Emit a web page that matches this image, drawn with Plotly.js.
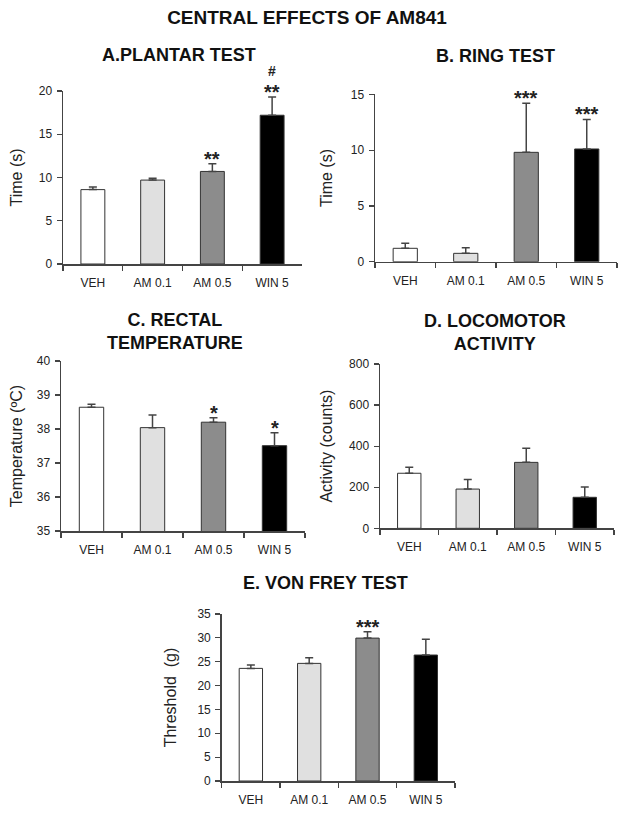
<!DOCTYPE html>
<html>
<head>
<meta charset="utf-8">
<script src="https://cdn.plot.ly/plotly-3.0.1.min.js"></script>
<style>html,body{margin:0;padding:0;background:#fff;}#chart{width:624px;height:818px;}</style>
</head>
<body>
<div id="chart"></div>
<script>
// ---- data ----
const categories = ['VEH', 'AM 0.1', 'AM 0.5', 'WIN 5'];

const plantarMean = [8.6, 9.7, 10.7, 17.2];
const plantarSem  = [0.3, 0.2, 0.9, 2.1];
const plantarSig  = ['', '', '**', '**'];
const plantarHash = ['', '', '', '#'];

const ringMean = [1.2, 0.75, 9.8, 10.1];
const ringSem  = [0.45, 0.5, 4.4, 2.65];
const ringSig  = ['', '', '***', '***'];

const tempMean = [38.64, 38.04, 38.2, 37.51];
const tempSem  = [0.09, 0.37, 0.13, 0.38];
const tempSig  = ['', '', '*', '*'];

const locoMean = [268, 191, 321, 151];
const locoSem  = [29, 47, 69, 50];
const locoSig  = ['', '', '', ''];

const vonFreyMean = [23.6, 24.65, 29.95, 26.4];
const vonFreySem  = [0.7, 1.2, 1.35, 3.3];
const vonFreySig  = ['', '', '***', ''];

// ---- styles ----
const FONT = 'Liberation Sans, Arial, sans-serif';
const barColors = ['#ffffff', '#e0e0e0', '#8c8c8c', '#000000'];
const AX = '#444';
const TXT = '#222';

const W = 624, H = 818;
const px = v => v / W;
const py = v => 1 - v / H;

const panels = [
  {id: '', mean: plantarMean, sem: plantarSem, sig: plantarSig, hash: plantarHash,
   x: [63, 302], y: [264, 91], range: [0, 20], dtick: 5, ytitle: 'Time (s)', standoff: 12,
   title: '<b>A.PLANTAR TEST</b>', tx: 179, ty: 55},
  {id: '2', mean: ringMean, sem: ringSem, sig: ringSig,
   x: [375, 617], y: [261.7, 94.3], range: [0, 15], dtick: 5, ytitle: 'Time (s)', standoff: 14,
   title: '<b>B. RING TEST</b>', tx: 495, ty: 56},
  {id: '3', mean: tempMean, sem: tempSem, sig: tempSig,
   x: [61, 305], y: [531, 361], range: [35, 40], dtick: 1, ytitle: 'Temperature (ºC)', standoff: 10,
   title: '<b>C. RECTAL<br>TEMPERATURE</b>', tx: 175, ty: 331.5},
  {id: '4', mean: locoMean, sem: locoSem, sig: locoSig,
   x: [380, 614], y: [528.3, 364], range: [0, 800], dtick: 200, ytitle: 'Activity (counts)', standoff: 12,
   title: '<b>D. LOCOMOTOR<br>ACTIVITY</b>', tx: 495, ty: 332.5},
  {id: '5', mean: vonFreyMean, sem: vonFreySem, sig: vonFreySig,
   x: [221.7, 455], y: [781, 614], range: [0, 35], dtick: 5, ytitle: 'Threshold \u00a0(g)', standoff: 17,
   title: '<b>E. VON FREY TEST</b>', tx: 325, ty: 583}
];

const data = [];
const annotations = [];
const layout = {
  width: W, height: H,
  margin: {l: 0, r: 0, t: 0, b: 0},
  paper_bgcolor: '#fff', plot_bgcolor: '#fff',
  showlegend: false,
  font: {family: FONT, color: TXT},
  title: {text: '<b>CENTRAL EFFECTS OF AM841</b>', x: px(307), xanchor: 'center',
          y: py(17), yanchor: 'middle', font: {family: FONT, size: 19, color: '#111'}},
  annotations: annotations
};

panels.forEach(p => {
  const xa = 'x' + p.id, ya = 'y' + p.id;
  data.push({
    type: 'bar', x: categories, y: p.mean,
    xaxis: xa, yaxis: ya, width: 0.4,
    marker: {color: barColors, line: {color: '#333', width: 1}},
    error_y: {type: 'data', symmetric: false, array: p.sem,
              arrayminus: p.sem.map(() => 0), color: AX, thickness: 1.5, width: 4},
    hoverinfo: 'skip'
  });
  layout['xaxis' + p.id] = {
    domain: [px(p.x[0]), px(p.x[1])], anchor: ya,
    type: 'category', range: [-0.5, 3.5], tickson: 'boundaries',
    ticks: 'outside', ticklen: 5, tickwidth: 1.2, tickcolor: AX,
    ticklabelstandoff: 7,
    showline: true, linecolor: AX, linewidth: 1.5,
    showgrid: false, zeroline: false, fixedrange: true,
    tickfont: {family: FONT, size: 12, color: TXT}
  };
  layout['yaxis' + p.id] = {
    domain: [py(p.y[0]), py(p.y[1])], anchor: xa,
    range: p.range, dtick: p.dtick, tick0: p.range[0],
    ticks: 'outside', ticklen: 5, tickwidth: 1.2, tickcolor: AX,
    ticklabelstandoff: 2,
    showline: true, linecolor: AX, linewidth: 1.5,
    showgrid: false, zeroline: false, fixedrange: true,
    tickfont: {family: FONT, size: 12, color: TXT},
    title: {text: p.ytitle, standoff: p.standoff, font: {family: FONT, size: 16, color: TXT}}
  };
  annotations.push({
    xref: 'paper', yref: 'paper', x: px(p.tx), y: py(p.ty),
    xanchor: 'center', yanchor: 'middle', showarrow: false,
    text: p.title, font: {family: FONT, size: 18, color: '#111'}
  });
  p.sig.forEach((s, i) => {
    if (!s) return;
    annotations.push({
      xref: xa, yref: ya, x: categories[i], y: p.mean[i] + p.sem[i],
      xanchor: 'center', yanchor: 'bottom', yshift: -8, showarrow: false,
      text: '<b>' + s + '</b>', font: {family: FONT, size: 20, color: '#222'}
    });
  });
  if (p.hash) {
    p.hash.forEach((s, i) => {
      if (!s) return;
      annotations.push({
        xref: xa, yref: ya, x: categories[i], y: p.mean[i] + p.sem[i],
        xanchor: 'center', yanchor: 'bottom', yshift: 16, showarrow: false,
        text: '<b>' + s + '</b>', font: {family: FONT, size: 14, color: '#222'}
      });
    });
  }
});

Plotly.newPlot('chart', data, layout, {staticPlot: true, displayModeBar: false});
</script>
</body>
</html>
